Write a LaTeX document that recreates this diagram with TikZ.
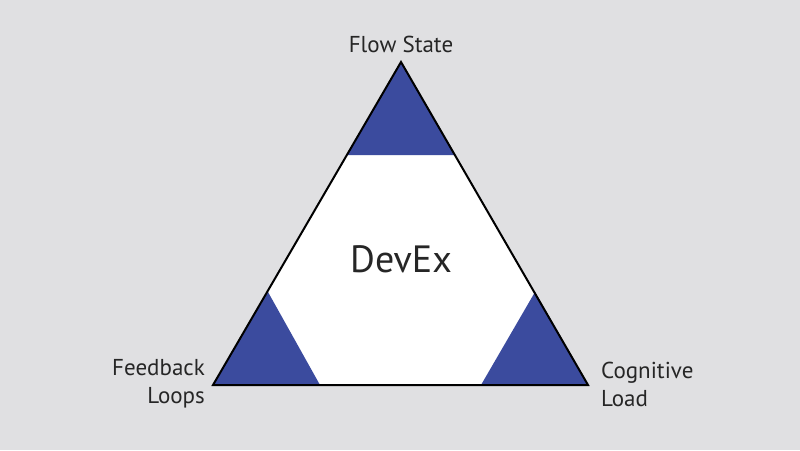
\documentclass[tikz,border=0pt]{standalone}
\usepackage{fontspec}
\setmainfont{PT Sans}
\definecolor{bg}{HTML}{E0E0E2}
\definecolor{blu}{HTML}{3B4B9E}
\begin{document}
\begin{tikzpicture}[x=1pt,y=-1pt,
  lbl/.style={font=\fontsize{23}{28}\selectfont,text=black!85,inner sep=0pt}]
\fill[bg] (0,0) rectangle (800,450);
\useasboundingbox (0,0) rectangle (800,450);
\coordinate (T) at (401,62);
\coordinate (L) at (213,385);
\coordinate (R) at (588,385);
\fill[white] (T)--(L)--(R)--cycle;
\fill[blu] (T)--(347,155)--(455,155)--cycle;
\fill[blu] (L)--(268,292)--(320,385)--cycle;
\fill[blu] (R)--(535,292)--(481,385)--cycle;
\draw[line width=2pt,line join=miter] (T)--(L)--(R)--cycle;
\node[lbl] (fs) at (401,44) {Flow State};
\node[lbl,align=right,anchor=east] (fb) at (205,384) {Feedback\\Loops};
\node[lbl,align=left,anchor=west] (cl) at (601,384) {Cognitive\\Load};
\node[inner sep=0pt,font=\fontsize{38}{40}\selectfont,text=black!85] (dx) at (401,259) {DevEx};
\end{tikzpicture}
\end{document}
